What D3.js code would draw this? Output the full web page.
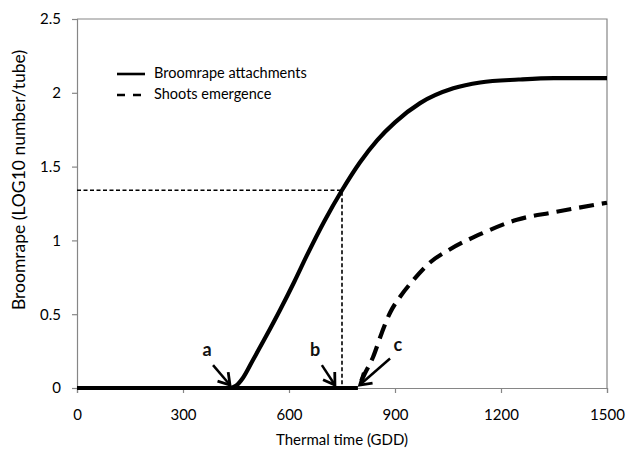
<!DOCTYPE html>
<html>
<head>
<meta charset="utf-8">
<script src="https://cdn.jsdelivr.net/npm/d3@7"></script>
<style>
  html, body { margin: 0; padding: 0; background: #fff; }
  svg { display: block; font-family: Lato, "Open Sans", sans-serif; }
</style>
</head>
<body>
<svg id="chart" width="626" height="453"></svg>
<script>
// ---- data ----
const attachTime  = [0, 300, 433, 450, 470, 498, 535, 575, 615, 651, 700, 750, 801, 850, 900, 971, 1065, 1141, 1250, 1350, 1500];
const attachValue = [0, 0, 0, 0.015, 0.07, 0.19, 0.35, 0.53, 0.72, 0.90, 1.13, 1.34, 1.53, 1.68, 1.80, 1.93, 2.03, 2.07, 2.09, 2.10, 2.10];
const shootTime   = [0, 400, 795, 815, 838, 862, 886, 915, 948, 999, 1056, 1149, 1245, 1348, 1500];
const shootValue  = [0, 0, 0, 0.10, 0.21, 0.37, 0.51, 0.62, 0.72, 0.85, 0.94, 1.05, 1.14, 1.19, 1.255];
const xTicks = [0, 300, 600, 900, 1200, 1500];
const yTicks = [0, 0.5, 1, 1.5, 2, 2.5];
const refPoint = {time: 750, value: 1.34};
const seriesNames = ["Broomrape attachments", "Shoots emergence"];
const arrowLabels = ["a", "b", "c"];
const arrowTip   = [[433, 0.02], [730, 0.02], [800, 0.02]];
const arrowTail  = [[385, 0.155], [693, 0.155], [886, 0.20]];
const labelPos   = [[368, 0.245], [674, 0.245], [908, 0.28]];

// ---- layout ----
const svg = d3.select("#chart");
const x = d3.scaleLinear().domain([0, 1500]).range([77, 607]);
const y = d3.scaleLinear().domain([0, 2.5]).range([388, 19]);
const axisColor = "#868686";

// frame (top & right)
svg.append("path")
  .attr("d", `M${x(0)},${y(2.5)}H${x(1500)}V${y(0)}`)
  .attr("fill", "none").attr("stroke", axisColor).attr("stroke-width", 1.2);

// axes
const xAxis = svg.append("g").attr("transform", `translate(0,${y(0)})`)
  .call(d3.axisBottom(x).tickValues(xTicks).tickSize(5).tickPadding(16).tickFormat(d3.format("d")));
const yAxis = svg.append("g").attr("transform", `translate(${x(0)},0)`)
  .call(d3.axisLeft(y).tickValues(yTicks).tickSize(5).tickPadding(11).tickFormat(d => d));
[xAxis, yAxis].forEach(g => {
  g.select(".domain").attr("stroke", axisColor).attr("stroke-width", 1.2);
  g.selectAll(".tick line").attr("stroke", axisColor).attr("stroke-width", 1.2);
  g.selectAll(".tick text").attr("fill", "#000").style("font-size", "15px")
    .style("font-family", "Lato, 'Open Sans', sans-serif");
});

// axis titles
svg.append("text").attr("x", 342).attr("y", 445).attr("text-anchor", "middle")
  .style("font-size", "15px").text("Thermal time (GDD)");
svg.append("text").attr("transform", "translate(25,180) rotate(-90)").attr("text-anchor", "middle")
  .style("font-size", "17.5px").text("Broomrape (LOG10 number/tube)");

// reference dashed lines
svg.append("path")
  .attr("d", `M${x(0)},${y(refPoint.value)}H${x(refPoint.time)}V${y(0)}`)
  .attr("fill", "none").attr("stroke", "#000").attr("stroke-width", 1.6)
  .attr("stroke-dasharray", "4,2.5");

const line = d3.line().x(d => x(d[0])).y(d => y(d[1])).curve(d3.curveMonotoneX);

// shoots emergence: flat part (solid-looking) and rising part (dashed)
const shootPts = d3.zip(shootTime, shootValue);
const lastZero = d3.max(shootPts.map((d, i) => d[1] === 0 ? i : -1));
svg.append("path")
  .attr("d", line(shootPts.slice(0, lastZero + 1)))
  .attr("fill", "none").attr("stroke", "#000").attr("stroke-width", 4.2);
svg.append("path")
  .attr("d", line(shootPts.slice(lastZero)))
  .attr("fill", "none").attr("stroke", "#000").attr("stroke-width", 4.2)
  .attr("stroke-dasharray", "15,8").attr("stroke-dashoffset", 15).attr("stroke-linecap", "butt");

// attachments (solid)
svg.append("path")
  .attr("d", line(d3.zip(attachTime, attachValue)))
  .attr("fill", "none").attr("stroke", "#000").attr("stroke-width", 4.2);

// arrows
const defs = svg.append("defs");
defs.append("marker").attr("id", "ah").attr("viewBox", "-13 -9 15 18")
  .attr("refX", 0).attr("refY", 0).attr("markerWidth", 15).attr("markerHeight", 18)
  .attr("markerUnits", "userSpaceOnUse").attr("orient", "auto")
  .append("path").attr("d", "M-11,-7 L0,0 L-11,7").attr("fill", "none")
  .attr("stroke", "#000").attr("stroke-width", 2.8).attr("stroke-linejoin", "miter");

arrowLabels.forEach((lab, i) => {
  svg.append("line")
    .attr("x1", x(arrowTail[i][0])).attr("y1", y(arrowTail[i][1]))
    .attr("x2", x(arrowTip[i][0])).attr("y2", y(arrowTip[i][1]))
    .attr("stroke", "#000").attr("stroke-width", 2.5).attr("marker-end", "url(#ah)");
  svg.append("text").attr("x", x(labelPos[i][0])).attr("y", y(labelPos[i][1]))
    .attr("text-anchor", "middle").attr("dominant-baseline", "middle")
    .style("font-size", "18px").style("font-weight", "bold").attr("fill", "#111")
    .text(lab);
});

// legend
const lg = svg.append("g");
lg.append("line").attr("x1", 117).attr("x2", 145).attr("y1", 74).attr("y2", 74)
  .attr("stroke", "#000").attr("stroke-width", 2.6);
lg.append("line").attr("x1", 117).attr("x2", 141).attr("y1", 95).attr("y2", 95)
  .attr("stroke", "#000").attr("stroke-width", 2.6).attr("stroke-dasharray", "8,8");
seriesNames.forEach((s, i) => {
  lg.append("text").attr("x", 154).attr("y", 74 + i * 21).attr("dominant-baseline", "middle")
    .style("font-size", "14.5px").text(s);
});
</script>
</body>
</html>
